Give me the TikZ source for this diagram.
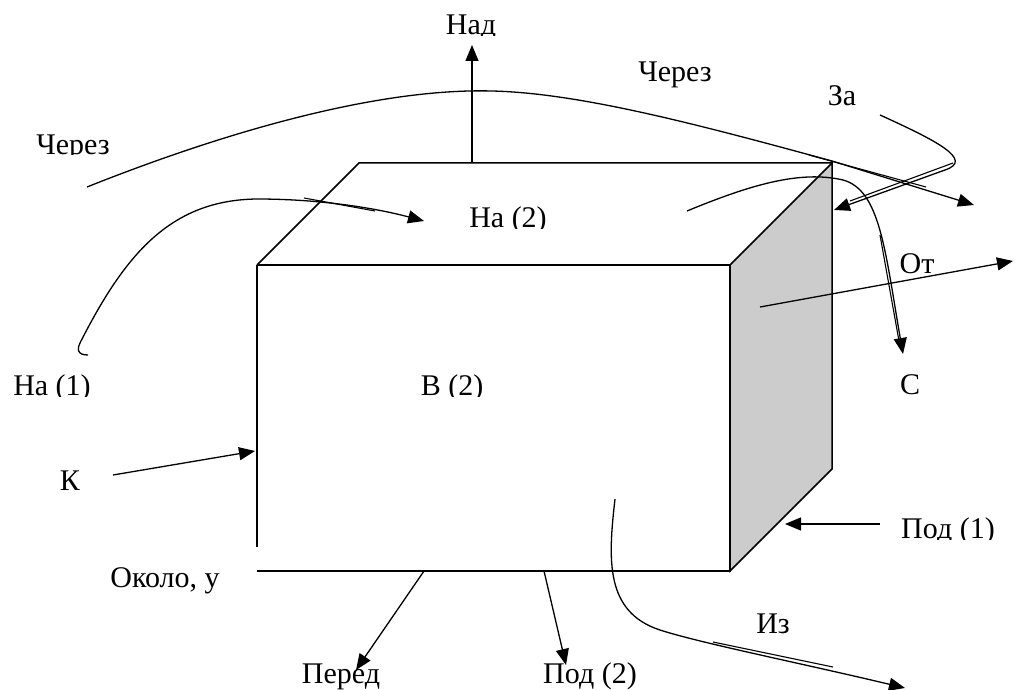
\documentclass[tikz,border=0pt]{standalone}
\usepackage{fontspec}
\setmainfont{Liberation Serif}
\usetikzlibrary{arrows.meta}

\begin{document}
\begin{tikzpicture}[x=1pt,y=-1pt,
    lbl/.style={anchor=base,inner sep=0pt,font=\fontsize{30}{36}\selectfont},
    edge/.style={line width=1.5pt,line join=miter},
    conn/.style={line width=1.3pt},
    arr/.style={conn,-{Triangle[length=16pt,width=13pt]}},
    stray/.style={line width=1.1pt}
  ]
    \useasboundingbox (0,0) rectangle (1015,690);

    \coordinate (FTL) at (257,265);
    \coordinate (FTR) at (730,265);
    \coordinate (FBR) at (730,571);
    \coordinate (FBL) at (257,571);
    \coordinate (FGap) at (257,547);
    \coordinate (BTL) at (359,163);
    \coordinate (BTR) at (832,163);
    \coordinate (BBR) at (832,469);

    \filldraw[edge,fill=black!20] (FTR) -- (BTR) -- (BBR) -- (FBR) -- cycle;
    \draw[edge] (FTL) -- (BTL) -- (BTR);
    \draw[edge] (FTL) -- (FTR) -- (FBR) -- (FBL);
    \draw[edge] (FTL) -- (FGap);

    \node[lbl] (cherT) at (675,82) {Через};
    \node[lbl] (za) at (842,106) {За};
    \node[lbl] (ot) at (917,273) {От};
    \node[lbl] (s) at (910,394) {С};
    \node[lbl] (k) at (70,490) {К};
    \node[lbl] (okolo) at (165,587) {Около, у};
    \node[lbl] (pered) at (341,683) {Перед};
    \node[lbl] (pod2) at (590,683) {Под (2)};
    \node[lbl] (iz) at (773,633) {Из};
    \begin{scope}
      \clip (420,0) rectangle (520,36)
            (20,120) rectangle (130,155)
            (450,195) rectangle (570,228)
            (0,360) rectangle (110,396)
            (400,360) rectangle (500,396)
            (880,500) rectangle (1015,539);
      \node[lbl] (nad) at (471,35) {Над};
      \node[lbl] (cherL) at (73,154) {Через};
      \node[lbl] (na2) at (508,227) {На (2)};
      \node[lbl] (na1) at (52,395) {На (1)};
      \node[lbl] (v2) at (452,395) {В (2)};
      \node[lbl] (pod1) at (948,538) {Под (1)};
    \end{scope}

    \coordinate (nadA) at (472,163);
    \coordinate (nadB) at (472,45);
    \coordinate (cherA) at (87,187);
    \coordinate (cherB) at (974,205);
    \coordinate (zaA) at (880,115);
    \coordinate (zaB) at (834,210);
    \coordinate (sA) at (687,211);
    \coordinate (sB) at (903,354);
    \coordinate (otA) at (760,307);
    \coordinate (otB) at (1013,261);
    \coordinate (naA) at (88,355);
    \coordinate (naB) at (424,221);
    \coordinate (kA) at (113,475);
    \coordinate (kB) at (255,451);
    \coordinate (podA) at (880,524);
    \coordinate (podB) at (785,524);
    \coordinate (perA) at (424,571);
    \coordinate (perB) at (356,670);
    \coordinate (podtA) at (544,571);
    \coordinate (podtB) at (566,665);
    \coordinate (izA) at (615,499);
    \coordinate (izB) at (905,688);

    \draw[arr] (nadA) -- (nadB);
    \draw[arr] (cherA) .. controls (230,130) and (380,88) .. (492,91)
               .. controls (580,93) and (700,125) .. (832,161) -- (cherB);
    \draw[stray] (809,155) -- (926,187);
    \draw[arr] (zaA) .. controls (935,140) and (975,160) .. (945,170) -- (zaB);
    \draw[stray] (953,163) -- (850,201);
    \draw[arr] (sA) .. controls (750,185) and (800,170) .. (843,180)
               .. controls (880,190) and (885,250) .. (sB);
    \draw[stray] (880,235) -- (899,341);
    \draw[arr] (otA) -- (otB);
    \draw[arr] (naA) .. controls (78,355) and (76,350) .. (81,341)
               .. controls (125,255) and (170,200) .. (257,199)
               .. controls (320,199) and (375,208) .. (naB);
    \draw[stray] (304,198) -- (375,211);
    \draw[arr] (kA) -- (kB);
    \draw[arr] (podA) -- (podB);
    \draw[arr] (perA) -- (perB);
    \draw[arr] (podtA) -- (podtB);
    \draw[arr] (izA) .. controls (608,560) and (605,612) .. (660,630)
               .. controls (700,643) and (800,663) .. (izB);
    \draw[stray] (713,642) -- (833,667);
  \end{tikzpicture}
\end{document}
